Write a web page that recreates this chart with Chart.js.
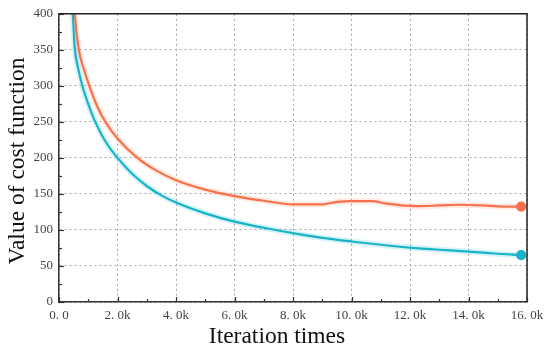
<!DOCTYPE html>
<html><head><meta charset="utf-8">
<script src="https://cdn.jsdelivr.net/npm/chart.js@4/dist/chart.umd.min.js"></script>
<style>html,body{margin:0;padding:0;background:#fff}#wrap{width:550px;height:356px}</style>
</head><body><div id="wrap"><canvas id="c" width="550" height="356"></canvas></div>
<script>
const xTicks = [0, 2000, 4000, 6000, 8000, 10000, 12000, 14000, 16000];
const xTickLabels = ['0. 0', '2. 0k', '4. 0k', '6. 0k', '8. 0k', '10. 0k', '12. 0k', '14. 0k', '16. 0k'];
const yTicks = [0, 50, 100, 150, 200, 250, 300, 350, 400];

const cyanX = [400, 470, 540, 650, 820, 1000, 1240, 1600, 2000, 2500, 3000, 3500, 4000, 5000, 6000, 7000, 8000, 9000, 10000, 11000, 12000, 13000, 14000, 15000, 15800];
const cyanY = [440, 400, 352, 325, 297, 275, 250, 222, 200, 178, 161, 148, 138, 123, 111.5, 103, 95.5, 89, 84, 79.5, 75.5, 72.5, 70, 67, 65];
const orangeX = [480, 540, 680, 850, 1070, 1300, 1600, 2000, 2680, 3300, 4000, 5000, 6000, 7000, 8000, 9000, 9500, 10000, 10700, 11200, 12200, 13000, 13700, 14500, 15200, 15800];
const orangeY = [450, 400, 350, 323, 296, 272, 249, 227, 200, 183, 169, 156, 147, 140.5, 135.5, 135.5, 139, 140, 140, 136.5, 133, 134, 135, 134, 132.5, 132.5];

const pts = (xs, ys) => xs.map((x, i) => ({x, y: ys[i]}));
const lastOnly = r => ctx => ctx.dataIndex === ctx.dataset.data.length - 1 ? r : 0;

const frame = {
  id: 'frame',
  afterDraw(chart) {
    const c = chart.ctx, a = chart.chartArea, xs = chart.scales.x, ys = chart.scales.y;
    c.save();
    c.strokeStyle = '#222'; c.lineWidth = 1.5;
    c.beginPath();
    c.moveTo(a.left, a.top); c.lineTo(a.right, a.top); c.lineTo(a.right, a.bottom);
    c.stroke();
    c.strokeStyle = '#333'; c.lineWidth = 1.2;
    for (let v = 0; v <= 16000; v += 1000) {
      const px = Math.round(xs.getPixelForValue(v)) + 0.5;
      const len = v % 2000 === 0 ? 5 : 3;
      c.beginPath(); c.moveTo(px, a.bottom); c.lineTo(px, a.bottom - len); c.stroke();
    }
    for (let v = 0; v <= 400; v += 25) {
      const py = Math.round(ys.getPixelForValue(v)) + 0.5;
      const len = v % 50 === 0 ? 5 : 3;
      c.beginPath(); c.moveTo(a.left, py); c.lineTo(a.left + len, py); c.stroke();
    }
    c.fillStyle = '#111';
    c.font = '23.5px "Liberation Serif", serif';
    c.textAlign = 'center'; c.textBaseline = 'middle';
    c.fillText('Iteration times', 277, 337);
    c.translate(18, 161); c.rotate(-Math.PI / 2);
    c.fillText('Value of cost function', 0, 0);
    c.restore();
  }
};

const common = {pointHoverRadius: 0, cubicInterpolationMode: 'monotone', fill: false};

new Chart(document.getElementById('c'), {
  type: 'line',
  data: {
    datasets: [
      Object.assign({data: pts(orangeX, orangeY), borderColor: 'rgba(248,120,80,0.16)', borderWidth: 6, pointRadius: 0}, common),
      Object.assign({data: pts(cyanX, cyanY), borderColor: 'rgba(40,190,210,0.18)', borderWidth: 6, pointRadius: 0}, common),
      Object.assign({data: pts(orangeX, orangeY), borderColor: '#f7714b', backgroundColor: '#f7714b', borderWidth: 2.2, pointRadius: lastOnly(4)}, common),
      Object.assign({data: pts(cyanX, cyanY), borderColor: '#14b2c6', backgroundColor: '#14b2c6', borderWidth: 2.2, pointRadius: lastOnly(4)}, common)
    ]
  },
  options: {
    responsive: false, animation: false,
    layout: {padding: {top: 10, right: 23, left: 0, bottom: 0}},
    plugins: {legend: {display: false}, tooltip: {enabled: false}},
    scales: {
      x: {
        type: 'linear', min: 0, max: 16000,
        afterBuildTicks: s => { s.ticks = xTicks.map(v => ({value: v})); },
        afterFit: s => { s.height = 54; },
        ticks: {
          callback: (v) => xTickLabels[xTicks.indexOf(v)],
          font: {family: '"Liberation Serif", serif', size: 13}, color: '#444', padding: 6, maxRotation: 0
        },
        grid: {color: '#a8a8a8', drawTicks: false, lineWidth: 1},
        border: {display: true, color: '#333', width: 1.5, dash: [2, 3]}
      },
      y: {
        min: 0, max: 400,
        afterBuildTicks: s => { s.ticks = yTicks.map(v => ({value: v})); },
        afterFit: s => { s.width = 59; },
        ticks: {font: {family: '"Liberation Serif", serif', size: 13}, color: '#444', padding: 6},
        grid: {color: '#a8a8a8', drawTicks: false, lineWidth: 1},
        border: {display: true, color: '#333', width: 1.5, dash: [2, 3]}
      }
    }
  },
  plugins: [frame]
});
</script></body></html>
